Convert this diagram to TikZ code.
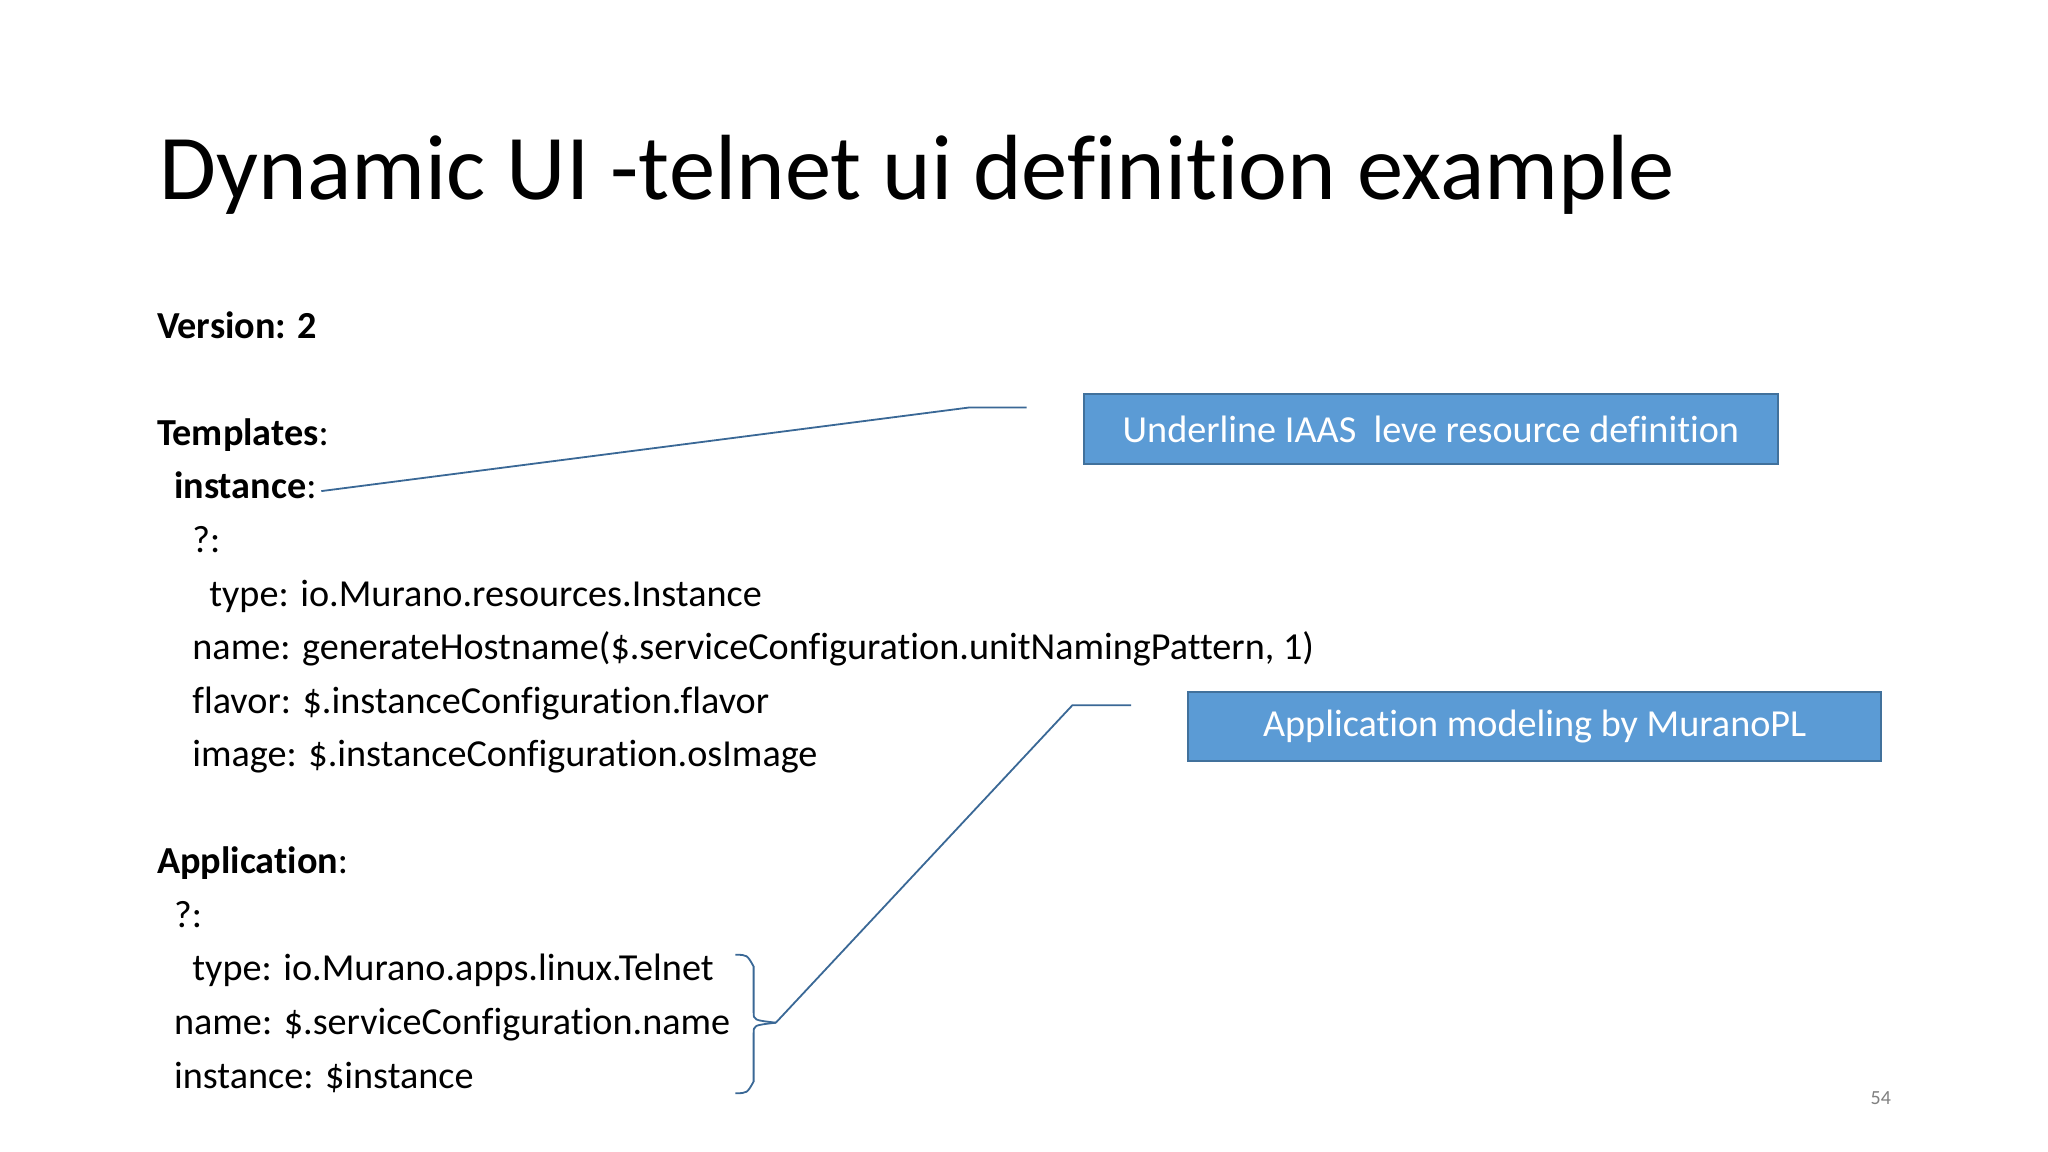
\documentclass[tikz,border=0pt]{standalone}
\usepackage{fontspec}
\setmainfont[Ligatures=NoCommon]{Carlito}
\usetikzlibrary{decorations.pathreplacing}
\definecolor{boxfill}{HTML}{5B9BD5}
\definecolor{boxline}{HTML}{41719C}
\definecolor{conn}{HTML}{3A6896}
\tikzset{
  code/.style={anchor=base west,inner sep=0pt,font=\fontsize{19.1}{23}\selectfont},
  callout/.style={draw=boxline,line width=1pt,fill=boxfill,text=white,minimum width=531*0.653pt,minimum height=53*0.653pt,inner sep=0pt,font=\fontsize{19.1}{23}\selectfont},
  leader/.style={draw=conn,line width=0.9pt}
}
\begin{document}
\begin{tikzpicture}[x=0.653pt,y=-0.653pt]
\useasboundingbox[fill=white] (0,0) rectangle (1568,882);
\node[anchor=base west,inner sep=0pt,font=\fontsize{46.3}{54}\selectfont] (title) at (122,153) {Dynamic UI -telnet ui definition example};
\node[code] (ver) at (120,259) {\textbf{Version: 2}};
\node[code] (tpl) at (120,341) {\textbf{Templates}:};
\node[code] (inst) at (133,382) {\textbf{instance}:};
\node[code] (q1) at (147,423) {?:};
\node[code] (t1) at (160,464) {type: io.Murano.resources.Instance};
\node[code] (n1) at (147,505) {name: generateHostname(\$.serviceConfiguration.unitNamingPattern, 1)};
\node[code] (f1) at (147,546) {flavor: \$.instanceConfiguration.flavor};
\node[code] (i1) at (147,587) {image: \$.instanceConfiguration.osImage};
\node[code] (app) at (120,669) {\textbf{Application}:};
\node[code] (q2) at (133,710) {?:};
\node[code] (t2) at (147,751) {type: io.Murano.apps.linux.Telnet};
\node[code] (n2) at (133,792) {name: \$.serviceConfiguration.name};
\node[code] (i2) at (133,833) {instance: \$instance};
\node[callout] (b1) at (1095.5,328.5) {Underline IAAS\ \ leve resource definition};
\node[callout] (b2) at (1175,556.5) {Application modeling by MuranoPL};
\node[anchor=base,inner sep=0pt,text=gray,font=\fontsize{10}{12}\selectfont] (pg) at (1440,846) {54};
\coordinate (c1a) at (246,376);
\coordinate (c1b) at (742,312);
\coordinate (c1c) at (786,312);
\draw[leader] (c1a) -- (c1b) -- (c1c);
\coordinate (bt) at (563,731);
\coordinate (bb) at (563,837);
\coordinate (bm) at (594,783);
\draw[leader] (bt) .. controls (572,731) .. (577,740) -- (577,775) .. controls (577,781) .. (594,783);
\draw[leader] (bb) .. controls (572,837) .. (577,828) -- (577,791) .. controls (577,785) .. (594,783);
\coordinate (c2b) at (821,540);
\coordinate (c2c) at (866,540);
\draw[leader] (bm) -- (c2b) -- (c2c);
\end{tikzpicture}
\end{document}
